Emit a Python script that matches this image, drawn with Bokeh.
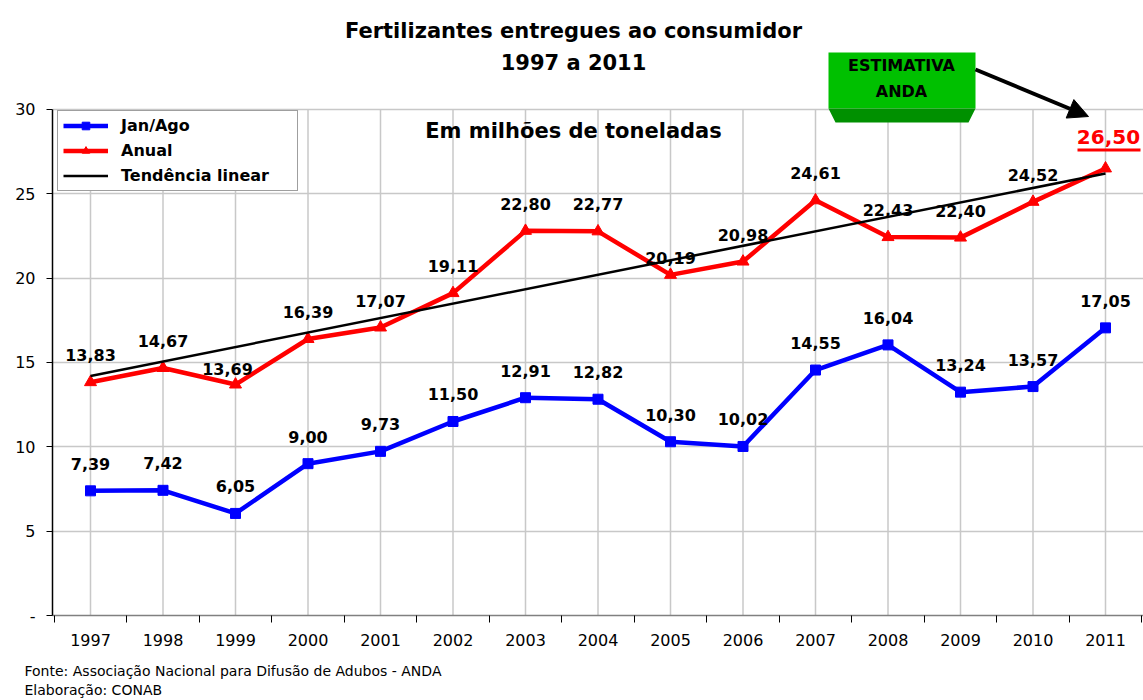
from bokeh.plotting import figure
from bokeh.models import (FixedTicker, Range1d, Title, Legend, LegendItem, Arrow,
                          NormalHead, ColumnDataSource)
from bokeh.core.properties import value
from bokeh.embed import file_html
from bokeh.resources import INLINE

FONT = "DejaVu Sans"

# ---------------- data ----------------
years = [1997, 1998, 1999, 2000, 2001, 2002, 2003, 2004, 2005, 2006, 2007, 2008, 2009, 2010, 2011]
jan_ago = [7.39, 7.42, 6.05, 9.00, 9.73, 11.50, 12.91, 12.82, 10.30, 10.02, 14.55, 16.04, 13.24, 13.57, 17.05]
anual = [13.83, 14.67, 13.69, 16.39, 17.07, 19.11, 22.80, 22.77, 20.19, 20.98, 24.61, 22.43, 22.40, 24.52, 26.50]
trend_years = [1997, 2011]
trend_values = [14.2, 26.2]
y_ticks = [0, 5, 10, 15, 20, 25, 30]

def fmt(v):
    return f"{v:.2f}".replace(".", ",")

# ---------------- layout helpers (page px -> data, for decorations) ----------------
W, H = 1143, 700
PX_X0, PX_PER_YEAR = 90.0, 72.5
PX_Y0, PX_PER_UNIT = 615.0, 16.87

def X(sx):
    return years[0] + (sx - PX_X0) / PX_PER_YEAR

def Y(sy):
    return (PX_Y0 - sy) / PX_PER_UNIT

p = figure(width=W, height=H, output_backend="svg", toolbar_location=None,
           x_range=Range1d(X(52), X(W)), y_range=Range1d(0, Y(0)),
           min_border_left=52, min_border_right=0, min_border_top=0,
           min_border_bottom=H - 615)
p.outline_line_color = None
p.background_fill_color = "white"

# axes
p.xaxis.ticker = FixedTicker(ticks=years, minor_ticks=[y - 0.5 for y in years] + [years[-1] + 0.5])
p.xaxis.major_tick_line_color = None
p.xaxis.major_tick_out = 0
p.xaxis.major_tick_in = 0
p.xaxis.minor_tick_in = 0
p.xaxis.minor_tick_out = 7
p.xaxis.minor_tick_line_color = "black"
p.xaxis.axis_line_color = "#808080"
p.xaxis.axis_line_width = 1.5
p.xaxis.major_label_text_font = FONT
p.xaxis.major_label_text_font_size = "16px"
p.xaxis.major_label_text_color = "black"
p.xaxis.major_label_standoff = 11
# invisible spacer label to leave room between tick labels and the source note
p.xaxis.axis_label = " "
p.xaxis.axis_label_text_font_size = "4px"
p.xaxis.axis_label_standoff = 4

p.yaxis.ticker = FixedTicker(ticks=y_ticks)
p.yaxis.bounds = (0, 30)
p.yaxis.major_label_overrides = {0: "-"}
p.yaxis.axis_line_color = "black"
p.yaxis.axis_line_width = 1.5
p.yaxis.major_tick_out = 6
p.yaxis.major_tick_in = 0
p.yaxis.minor_tick_line_color = None
p.yaxis.major_label_text_font = FONT
p.yaxis.major_label_text_font_size = "16px"
p.yaxis.major_label_text_color = "black"
p.yaxis.major_label_standoff = 11

p.xgrid.visible = False
p.ygrid.ticker = FixedTicker(ticks=y_ticks[1:])
p.ygrid.grid_line_color = "#c8c8c8"
p.ygrid.grid_line_width = 1.5

# vertical grid lines at category centres
p.segment(x0=years, y0=0, x1=years, y1=30, line_color="#c8c8c8", line_width=1.5, level="underlay")

# titles
title_kw = dict(text_align="center", text_baseline="middle", text_font=value(FONT),
                text_font_style="bold", text_color="black")
p.text(x=[X(573)], y=[Y(30)], text=["Fertilizantes entregues ao consumidor"], text_font_size="21px", **title_kw)
p.text(x=[X(573)], y=[Y(62)], text=["1997 a 2011"], text_font_size="21px", **title_kw)
p.text(x=[X(573)], y=[Y(130)], text=["Em milhões de toneladas"], text_font_size="21px", **title_kw)

# green box
p.quad(left=X(828), right=X(975), bottom=Y(108), top=Y(52), fill_color="#00C000", line_color=None)
p.patch(x=[X(828), X(975), X(968), X(835)], y=[Y(108), Y(108), Y(122), Y(122)],
        fill_color="#009000", line_color=None)
p.text(x=[X(901), X(901)], y=[Y(65), Y(91)], text=["ESTIMATIVA", "ANDA"], text_font_size="16px", **title_kw)
p.add_layout(Arrow(end=NormalHead(size=20, fill_color="black", line_color="black"),
                   x_start=X(975), y_start=Y(69), x_end=X(1088), y_end=Y(116),
                   line_width=4, line_color="black"))

# series
bl = p.line(years, jan_ago, line_color="#0000FF", line_width=4.5)
bs = p.scatter(years, jan_ago, marker="square", size=10, fill_color="#0000FF", line_color="#0000FF")
rl = p.line(years, anual, line_color="#FF0000", line_width=4.5)
rs = p.scatter(years, anual, marker="triangle", size=12, fill_color="#FF0000", line_color="#FF0000")

# data labels
lab_kw = dict(text_align="center", text_baseline="middle", text_font=value(FONT),
              text_font_style="bold", text_font_size="16px", text_color="black")
src_b = ColumnDataSource(dict(x=years, y=jan_ago, t=[fmt(v) for v in jan_ago]))
p.text(x="x", y="y", text="t", source=src_b, y_offset=-27, **lab_kw)

dx = [0] * 14
dy = [-27] * 14
dx[2], dy[2] = -8, -16
dy[8] = -17
src_r = ColumnDataSource(dict(x=years[:14], y=anual[:14], t=[fmt(v) for v in anual[:14]], dx=dx, dy=dy))
p.text(x="x", y="y", text="t", source=src_r, x_offset="dx", y_offset="dy", **lab_kw)

p.text(x=[years[-1]], y=[anual[-1]], text=[fmt(anual[-1])], x_offset=3, y_offset=-31,
       text_align="center", text_baseline="middle", text_font=value(FONT),
       text_font_style="bold", text_font_size="20px", text_color="#FF0000")
p.segment(x0=[X(1077)], x1=[X(1140)], y0=[Y(149.5)], y1=[Y(149.5)], line_color="#FF0000", line_width=3)

# trend line (drawn on top)
tl = p.line(trend_years, trend_values, line_color="black", line_width=2.5)

# legend
legend = Legend(items=[LegendItem(label="Jan/Ago", renderers=[bl, bs]),
                       LegendItem(label="Anual", renderers=[rl, rs]),
                       LegendItem(label="Tendência linear", renderers=[tl])],
                location=(5, 424), padding=5, spacing=6, label_height=19, glyph_height=19,
                glyph_width=45, label_standoff=13, label_width=171, margin=0,
                border_line_color="#404040", border_line_width=1.5,
                background_fill_color="white", background_fill_alpha=1.0,
                label_text_font=FONT, label_text_font_style="bold", label_text_font_size="16px",
                label_text_color="black")
p.add_layout(legend)

# footer (source note) below the axis
footer = Title(text="Fonte: Associação Nacional para Difusão de Adubos - ANDA\nElaboração: CONAB",
               align="left", offset=-28, text_font=FONT, text_font_size="14px",
               text_font_style="normal", text_color="black", text_line_height=1.23, standoff=0)
p.add_layout(footer, "below")

open("out.html", "w").write(file_html(p, INLINE))
